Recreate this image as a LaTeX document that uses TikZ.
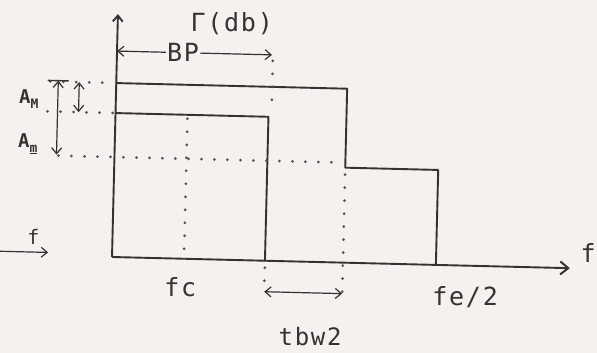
\documentclass[tikz,border=0pt]{standalone}
\usepackage{fontspec}
\usetikzlibrary{arrows.meta}
\newfontfamily\typefont[LetterSpace=7]{DejaVu Sans Mono}
\newfontfamily\handfont{DejaVu Sans Mono}
\definecolor{paper}{RGB}{246,240,239}
\definecolor{ink}{RGB}{52,50,50}
\tikzset{
  solidline/.style={draw=ink, line width=1.9pt, line cap=round, line join=round},
  dotline/.style={draw=ink!85, line width=3pt, line cap=round, dash pattern=on 0pt off 13pt},
  thinarrow/.style={draw=ink, line width=1.2pt, arrows={-Straight Barb[length=6pt,width=10pt]}},
  twoarrow/.style={draw=ink, line width=1.2pt, arrows={Straight Barb[length=6pt,width=10pt]-Straight Barb[length=6pt,width=10pt]}},
  axisarrow/.style={draw=ink, line width=1.9pt, arrows={-Straight Barb[length=8pt,width=13pt,line width=2pt]}},
  lab/.style={text=ink, font=\typefont\fontsize{25}{25}\selectfont, inner sep=1pt},
  hlab/.style={text=ink, font=\handfont\bfseries\fontsize{19}{19}\selectfont, inner sep=1pt}
}
\begin{document}
\begin{tikzpicture}[x=1pt,y=1pt]
\fill[paper] (0,0) rectangle (597,353);
\useasboundingbox (0,0) rectangle (597,353);
\begin{scope}[shift={(112,96)}, rotate=-1.4]
  % key points
  \coordinate (O) at (0,0);
  \coordinate (Ytop) at (0,243);
  \coordinate (Xend) at (458,0);
  \coordinate (U0) at (0,174);
  \coordinate (U1) at (231,174);
  \coordinate (U2) at (231,95);
  \coordinate (U3) at (324,95);
  \coordinate (U4) at (324,0);
  \coordinate (L0) at (0,144);
  \coordinate (L1) at (153,144);
  \coordinate (L2) at (153,0);
  % axes
  \draw[axisarrow] (O) -- (Xend);
  \draw[thinarrow, line width=1.9pt] (O) -- (Ytop);
  % curves
  \draw[solidline] (U0) -- (U1) -- (U2) -- (U3) -- (U4);
  \draw[solidline] (L0) -- (L1) -- (L2);
  % dotted guides
  \coordinate (dA1) at (72,140); \coordinate (dA2) at (72,6);
  \draw[dotline] (dA1) -- (dA2);
  \coordinate (dB1) at (156,200); \coordinate (dB2) at (156,148);
  \draw[dotline] (dB1) -- (dB2);
  \coordinate (dC1) at (153,-7); \coordinate (dC2) at (153,-30);
  \draw[dotline] (dC1) -- (dC2);
  \coordinate (dD1) at (231,88); \coordinate (dD2) at (231,-30);
  \draw[dotline] (dD1) -- (dD2);
  \coordinate (hT1) at (-66,174); \coordinate (hT2) at (-2,174);
  \draw[dotline] (hT1) -- (hT2);
  \coordinate (hM1) at (-68,144); \coordinate (hM2) at (-2,144);
  \draw[dotline] (hM1) -- (hM2);
  \coordinate (hm1) at (-56,100); \coordinate (hm2) at (225,100);
  \draw[dotline] (hm1) -- (hm2);
  % Am and AM arrows
  \coordinate (tk1) at (-68,175); \coordinate (tk2) at (-48,175);
  \draw[solidline, line width=1.4pt] (tk1) -- (tk2);
  \coordinate (am1) at (-58,175); \coordinate (am2) at (-58,101);
  \draw[twoarrow] (am1) -- (am2);
  \coordinate (aM1) at (-37,174); \coordinate (aM2) at (-37,144);
  \draw[twoarrow] (aM1) -- (aM2);
  % BP arrow
  \node[lab, fill=paper] (BP) at (66,206) {BP};
  \coordinate (BPl) at (0,206);
  \coordinate (BPr) at (155,206);
  \draw[thinarrow] (BP) -- (BPl);
  \draw[thinarrow] (BP) -- (BPr);
  % tbw2 arrow
  \coordinate (tb1) at (153,-31); \coordinate (tb2) at (231,-31);
  \draw[twoarrow] (tb1) -- (tb2);
  % left f arrow
  \coordinate (lf1) at (-113,3); \coordinate (lf2) at (-64,3);
  \draw[thinarrow] (lf1) -- (lf2);
  % labels
  \node[lab] (G) at (114,236) {Γ(db)};
  \node[lab] (fc) at (69,-29) {fc};
  \node[lab] (fe) at (354,-32) {fe/2};
  \node[lab, font=\typefont\fontsize{24}{24}\selectfont] (tbw) at (200,-75) {tbw2};
  \node[lab] (fr) at (476,16) {f};
  \node[lab, font=\typefont\fontsize{20}{20}\selectfont] (fl) at (-79,18) {f};
  \node[hlab] (AM) at (-87,156) {A\raisebox{-0.25em}{\fontsize{13}{13}\selectfont M}};
  \node[hlab] (Am) at (-87,111) {A\raisebox{-0.25em}{\fontsize{13}{13}\selectfont\underline{m}}};
\end{scope}
\end{tikzpicture}
\end{document}
